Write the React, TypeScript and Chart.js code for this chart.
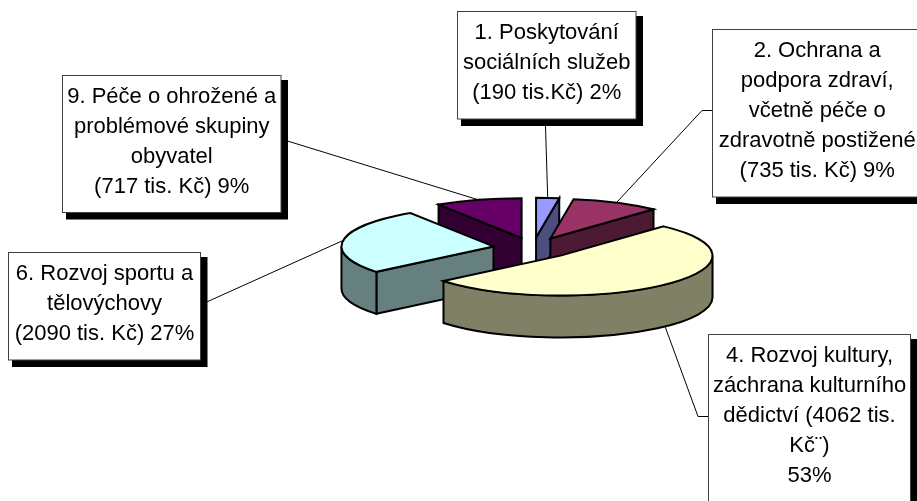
import React, { useEffect, useRef } from "react";
import { Chart, registerables } from "chart.js";

Chart.register(...registerables);

const categories = ["1. Poskytování sociálních služeb", "2. Ochrana a podpora zdraví", "4. Rozvoj kultury", "6. Rozvoj sportu a tělovýchovy", "9. Péče o ohrožené a problémové skupiny"];
const values = [190, 735, 4062, 2090, 717];
const topColors = ["#9999FF", "#993366", "#FFFFCC", "#CCFFFF", "#660066"];
const sideColors = ["#4D4D80", "#4D1A33", "#808066", "#668080", "#330033"];
const labelLines = [
  ["1. Poskytování", "sociálních služeb", "(190 tis.Kč) 2%"],
  ["2. Ochrana a", "podpora zdraví,", "včetně péče o", "zdravotně postižené", "(735 tis. Kč) 9%"],
  ["4. Rozvoj kultury,", "záchrana kulturního", "dědictví (4062 tis.", "Kč¨)", "53%"],
  ["6. Rozvoj sportu a", "tělovýchovy", "(2090 tis. Kč) 27%"],
  ["9. Péče o ohrožené a", "problémové skupiny", "obyvatel", "(717 tis. Kč) 9%"],
];
// label box layout: left, top, right, bottom
const boxes = [
  [457.5, 11.5, 636, 119],
  [712.5, 29.5, 922, 197],
  [708.5, 334.5, 910.5, 530],
  [8.5, 252.5, 200.5, 360],
  [62.5, 75.5, 281, 212.5],
];
// leader lines: box-side points, then the slice rim
const leaderStarts = [
  [[545.5, 126]],
  [[712, 110.5], [702, 110.5]],
  [[708, 416.5], [698, 416.5]],
  [[200, 305]],
  [[281, 139]],
];
const drawOrder = [4, 0, 1, 3, 2];

const TILT = 0.262;
const DEPTH = 42;
const EXPLODE = 40;
const FONT = '22px "Liberation Sans", Arial, sans-serif';

const pie3d = {
  id: "pie3d",
  beforeDatasetsDraw(chart: any) {
    const ctx: CanvasRenderingContext2D = chart.ctx;
    const arcs = chart.getDatasetMeta(0).data;
    ctx.save();
    ctx.lineJoin = "miter";
    const place = (el: any) => {
      const p = el.getProps(["x", "y", "startAngle", "endAngle", "outerRadius"], true);
      const mid = (p.startAngle + p.endAngle) / 2;
      return {
        ...p,
        mid,
        px: p.x + Math.cos(mid) * EXPLODE,
        py: p.y + Math.sin(mid) * EXPLODE * TILT,
      };
    };
    for (const i of drawOrder) {
      const g = place(arcs[i]);
      const R = g.outerRadius;
      const rY = R * TILT;
      const a = g.startAngle;
      const b = g.endAngle;
      ctx.lineWidth = 2;
      ctx.strokeStyle = "#000";
      ctx.fillStyle = sideColors[i];
      const wall = (t: number) => {
        const ex = g.px + Math.cos(t) * R;
        const ey = g.py + Math.sin(t) * rY;
        ctx.beginPath();
        ctx.moveTo(g.px, g.py);
        ctx.lineTo(ex, ey);
        ctx.lineTo(ex, ey + DEPTH);
        ctx.lineTo(g.px, g.py + DEPTH);
        ctx.closePath();
        ctx.fill();
        ctx.stroke();
      };
      if (Math.sin(a - Math.PI / 2) > 0.01) wall(a);
      if (Math.sin(b + Math.PI / 2) > 0.01) wall(b);
      const rs = Math.max(a, 0);
      const re = Math.min(b, Math.PI);
      if (re > rs) {
        ctx.beginPath();
        ctx.ellipse(g.px, g.py, R, rY, 0, rs, re);
        ctx.ellipse(g.px, g.py + DEPTH, R, rY, 0, re, rs, true);
        ctx.closePath();
        ctx.fill();
        ctx.stroke();
      }
      // top face: the library's own arc, tilted
      ctx.save();
      ctx.translate(g.px, g.py);
      ctx.scale(1, TILT);
      ctx.translate(-g.x, -g.y);
      arcs[i].draw(ctx);
      ctx.restore();
      ctx.beginPath();
      ctx.moveTo(g.px, g.py);
      ctx.ellipse(g.px, g.py, R, rY, 0, a, b);
      ctx.closePath();
      ctx.stroke();
    }
    // leader lines
    ctx.strokeStyle = "#000";
    ctx.lineWidth = 1;
    arcs.forEach((el: any, i: number) => {
      const g = place(el);
      const front = Math.sin(g.mid) > 0.3;
      const ax = g.px + Math.cos(g.mid) * g.outerRadius;
      const ay = g.py + Math.sin(g.mid) * g.outerRadius * TILT + (front ? DEPTH : 0);
      ctx.beginPath();
      leaderStarts[i].forEach(([x, y], k) => (k ? ctx.lineTo(x, y) : ctx.moveTo(x, y)));
      ctx.lineTo(ax, ay);
      ctx.stroke();
    });
    // label boxes
    boxes.forEach(([l, t, r, bt], i) => {
      ctx.fillStyle = "#000";
      ctx.fillRect(l + 3.5, t + 4.5, r - l + 3.5, bt - t + 2.5);
      ctx.fillStyle = "#fff";
      ctx.fillRect(l, t, r - l, bt - t);
      ctx.strokeStyle = "#404040";
      ctx.lineWidth = 1;
      ctx.strokeRect(l, t, r - l, bt - t);
      ctx.fillStyle = "#000";
      ctx.font = FONT;
      ctx.textAlign = "center";
      ctx.textBaseline = "alphabetic";
      labelLines[i].forEach((s, k) => ctx.fillText(s, (l + r) / 2, t + 27.5 + k * 30));
    });
    ctx.restore();
    return false;
  },
};

export default function App() {
  const ref = useRef<HTMLCanvasElement>(null);
  useEffect(() => {
    const chart = new Chart(ref.current!, {
      type: "pie",
      data: {
        labels: categories,
        datasets: [{ data: values, backgroundColor: topColors, borderWidth: 0 }],
      },
      options: {
        animation: false,
        responsive: false,
        layout: { padding: { left: 381, right: 232, top: 96, bottom: 101 } },
        plugins: { legend: { display: false }, tooltip: { enabled: false } },
      },
      plugins: [pie3d],
    } as any);
    return () => chart.destroy();
  }, []);
  return (
    <canvas
      ref={ref}
      width={917}
      height={501}
      style={{ position: "absolute", left: 0, top: 0, width: 917, height: 501, background: "#fff" }}
    />
  );
}
